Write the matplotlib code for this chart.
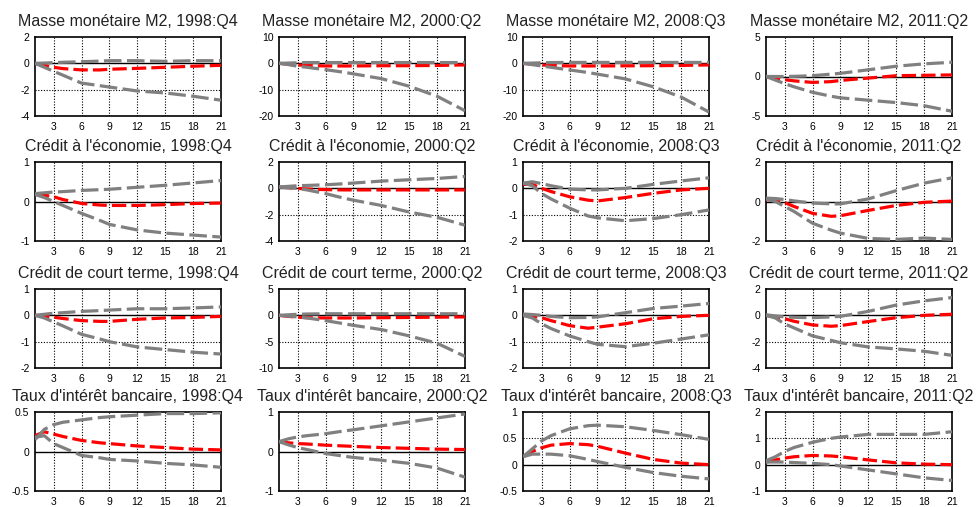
import matplotlib
matplotlib.use("Agg")
import matplotlib.pyplot as plt

plt.rcParams["font.family"] = ["Liberation Sans", "DejaVu Sans"]

# horizon (quarters) at which values were read
X = [1, 2, 3, 4, 6, 8, 9, 12, 15, 18, 21]
XTICKS = [3, 6, 9, 12, 15, 18, 21]

TITLES = [
    ["Masse monétaire M2, 1998:Q4", "Masse monétaire M2, 2000:Q2",
     "Masse monétaire M2, 2008:Q3", "Masse monétaire M2, 2011:Q2"],
    ["Crédit à l'économie, 1998:Q4", "Crédit à l'économie, 2000:Q2",
     "Crédit à l'économie, 2008:Q3", "Crédit à l'économie, 2011:Q2"],
    ["Crédit de court terme, 1998:Q4", "Crédit de court terme, 2000:Q2",
     "Crédit de court terme, 2008:Q3", "Crédit de court terme, 2011:Q2"],
    ["Taux d'intérêt bancaire, 1998:Q4", "Taux d'intérêt bancaire, 2000:Q2",
     "Taux d'intérêt bancaire, 2008:Q3", "Taux d'intérêt bancaire, 2011:Q2"],
]

YTICKS = [
    [[-4, -2, 0, 2], [-20, -10, 0, 10], [-20, -10, 0, 10], [-5, 0, 5]],
    [[-1, 0, 1], [-4, -2, 0, 2], [-2, -1, 0, 1], [-2, 0, 2]],
    [[-2, -1, 0, 1], [-10, -5, 0, 5], [-2, -1, 0, 1], [-4, -2, 0, 2]],
    [[-0.5, 0, 0.5], [-1, 0, 1], [-0.5, 0, 0.5, 1], [-1, 0, 1, 2]],
]

# upper band, median, lower band per panel
UP = [
    [[0, 0.02, 0.05, 0.08, 0.12, 0.17, 0.2, 0.2, 0.15, 0.2, 0.2],
     [0, 0.1, 0.2, 0.3, 0.3, 0.3, 0.3, 0.3, 0.3, 0.3, 0.3],
     [0, 0.1, 0.2, 0.3, 0.35, 0.35, 0.35, 0.35, 0.35, 0.35, 0.35],
     [0, 0, 0, 0.02, 0.1, 0.3, 0.4, 0.85, 1.3, 1.6, 1.8]],
    [[0.2, 0.22, 0.24, 0.25, 0.28, 0.3, 0.31, 0.36, 0.41, 0.47, 0.53],
     [0.1, 0.15, 0.2, 0.22, 0.27, 0.35, 0.4, 0.55, 0.65, 0.75, 0.9],
     [0.2, 0.25, 0.18, 0.1, -0.03, -0.06, -0.06, 0.0, 0.15, 0.28, 0.4],
     [0.17, 0.15, 0.1, 0.03, -0.08, -0.12, -0.12, 0.13, 0.55, 0.93, 1.2]],
    [[0.0, 0.04, 0.08, 0.1, 0.15, 0.18, 0.2, 0.25, 0.25, 0.28, 0.32],
     [0, 0.1, 0.2, 0.25, 0.3, 0.3, 0.3, 0.3, 0.3, 0.3, 0.3],
     [0.05, 0.03, 0.0, -0.04, -0.09, -0.08, -0.06, 0.1, 0.26, 0.35, 0.45],
     [0.05, -0.05, -0.12, -0.15, -0.18, -0.12, -0.08, 0.3, 0.78, 1.1, 1.35]],
    [[0.15, 0.28, 0.34, 0.37, 0.4, 0.43, 0.44, 0.46, 0.48, 0.48, 0.49],
     [0.25, 0.32, 0.37, 0.4, 0.45, 0.52, 0.55, 0.65, 0.75, 0.85, 0.95],
     [0.15, 0.3, 0.45, 0.55, 0.68, 0.74, 0.75, 0.72, 0.65, 0.57, 0.48],
     [0.15, 0.3, 0.5, 0.65, 0.85, 1.0, 1.05, 1.15, 1.15, 1.15, 1.25]],
]
MED = [
    [[0, -0.15, -0.3, -0.4, -0.5, -0.5, -0.45, -0.38, -0.3, -0.22, -0.15],
     [0, -0.3, -0.6, -0.8, -1.0, -1.0, -1.0, -0.9, -0.9, -0.8, -0.6],
     [0, -0.3, -0.6, -0.8, -1.0, -1.0, -1.0, -0.95, -0.9, -0.8, -0.6],
     [0, -0.2, -0.4, -0.55, -0.75, -0.65, -0.5, -0.2, 0.1, 0.15, 0.2]],
    [[0.18, 0.16, 0.12, 0.05, -0.05, -0.09, -0.1, -0.1, -0.08, -0.05, -0.04],
     [0.1, 0.05, 0.0, -0.05, -0.1, -0.12, -0.12, -0.12, -0.12, -0.12, -0.12],
     [0.15, 0.15, 0.0, -0.12, -0.32, -0.45, -0.48, -0.35, -0.19, -0.06, 0.0],
     [0.1, 0.05, -0.05, -0.25, -0.6, -0.75, -0.72, -0.45, -0.2, -0.04, 0.02]],
    [[0.0, -0.03, -0.07, -0.12, -0.2, -0.23, -0.23, -0.15, -0.1, -0.08, -0.04],
     [0, -0.2, -0.35, -0.45, -0.5, -0.5, -0.5, -0.45, -0.4, -0.35, -0.3],
     [0.0, -0.04, -0.09, -0.2, -0.39, -0.49, -0.45, -0.32, -0.13, -0.04, 0.0],
     [0.0, -0.12, -0.25, -0.45, -0.73, -0.83, -0.78, -0.47, -0.18, 0.0, 0.08]],
    [[0.2, 0.25, 0.22, 0.19, 0.14, 0.11, 0.1, 0.07, 0.05, 0.03, 0.02],
     [0.25, 0.22, 0.2, 0.19, 0.16, 0.14, 0.13, 0.1, 0.08, 0.06, 0.05],
     [0.15, 0.25, 0.32, 0.37, 0.4, 0.38, 0.35, 0.22, 0.1, 0.03, 0.0],
     [0.1, 0.18, 0.25, 0.3, 0.35, 0.33, 0.3, 0.18, 0.07, 0.02, 0.0]],
]
LO = [
    [[0, -0.3, -0.6, -0.9, -1.5, -1.7, -1.8, -2.1, -2.25, -2.5, -2.8],
     [0, -0.5, -1.1, -1.5, -2.4, -3.4, -4.0, -5.8, -8.7, -12.5, -18.0],
     [0, -0.5, -1.0, -1.5, -2.5, -3.5, -4.1, -5.9, -8.9, -12.8, -18.5],
     [0, -0.45, -0.9, -1.3, -2.0, -2.5, -2.7, -3.0, -3.3, -3.7, -4.4]],
    [[0.18, 0.1, 0.0, -0.1, -0.3, -0.48, -0.58, -0.72, -0.8, -0.85, -0.9],
     [0.1, 0.05, 0.0, -0.12, -0.4, -0.75, -0.9, -1.3, -1.8, -2.2, -2.8],
     [0.2, 0.1, -0.2, -0.4, -0.75, -1.05, -1.12, -1.23, -1.15, -1.0, -0.82],
     [0.12, 0.0, -0.25, -0.5, -1.1, -1.45, -1.6, -1.87, -1.92, -1.85, -1.92]],
    [[0.0, -0.1, -0.25, -0.4, -0.72, -0.9, -1.0, -1.2, -1.3, -1.4, -1.47],
     [0, -0.15, -0.3, -0.5, -1.0, -1.6, -1.9, -2.7, -3.9, -5.3, -7.8],
     [0.0, -0.1, -0.32, -0.5, -0.78, -1.0, -1.1, -1.19, -1.06, -0.9, -0.74],
     [0.0, -0.2, -0.65, -0.95, -1.56, -1.9, -2.08, -2.4, -2.55, -2.73, -3.04]],
    [[0.18, 0.2, 0.1, 0.05, -0.05, -0.08, -0.1, -0.12, -0.15, -0.17, -0.2],
     [0.25, 0.17, 0.1, 0.05, -0.05, -0.12, -0.15, -0.22, -0.3, -0.42, -0.65],
     [0.15, 0.2, 0.2, 0.2, 0.17, 0.1, 0.06, -0.05, -0.15, -0.22, -0.27],
     [0.1, 0.1, 0.1, 0.08, 0.05, 0.0, -0.05, -0.2, -0.35, -0.5, -0.6]],
]

GREY = "#808080"
RED = "#ff0000"

W, H = 980, 507
LEFTS = [35, 279, 523, 766]
TOPS = [37, 162, 289, 412]
AW, AH = 186, 79


def fmt(v):
    s = f"{v:g}"
    return s


fig = plt.figure(figsize=(W / 100, H / 100), dpi=100)
fig.patch.set_facecolor("white")

for r in range(4):
    for c in range(4):
        ax = fig.add_axes([LEFTS[c] / W, 1 - (TOPS[r] + AH) / H, AW / W, AH / H])
        yt = YTICKS[r][c]
        ax.axhline(0, color="black", lw=1.0, zorder=2)
        ax.plot(X, MED[r][c], color=RED, lw=2.3, dashes=(4.5, 1.6), zorder=3)
        ax.plot(X, UP[r][c], color=GREY, lw=2.3, dashes=(5.5, 1.7), zorder=4)
        ax.plot(X, LO[r][c], color=GREY, lw=2.3, dashes=(5.5, 1.7), zorder=4)
        ax.set_xlim(1, 21)
        ax.set_ylim(yt[0], yt[-1])
        ax.set_xticks(XTICKS)
        ax.set_yticks(yt)
        ax.set_yticklabels([fmt(v) for v in yt])
        for x in XTICKS[:-1]:
            ax.axvline(x, color="black", lw=0.8, ls=(0, (1, 1.5)), zorder=1)
        for y in yt[1:-1]:
            if y != 0:
                ax.axhline(y, color="black", lw=0.8, ls=(0, (1, 1.5)), zorder=1)
        ax.tick_params(length=0, labelsize=7.5, pad=4)
        for sp in ax.spines.values():
            sp.set_linewidth(1.2)
            sp.set_color("black")
        ax.set_title(TITLES[r][c], fontsize=11.5, pad=8, color="#222222")

fig.savefig("out.png", dpi=100, facecolor="white")
